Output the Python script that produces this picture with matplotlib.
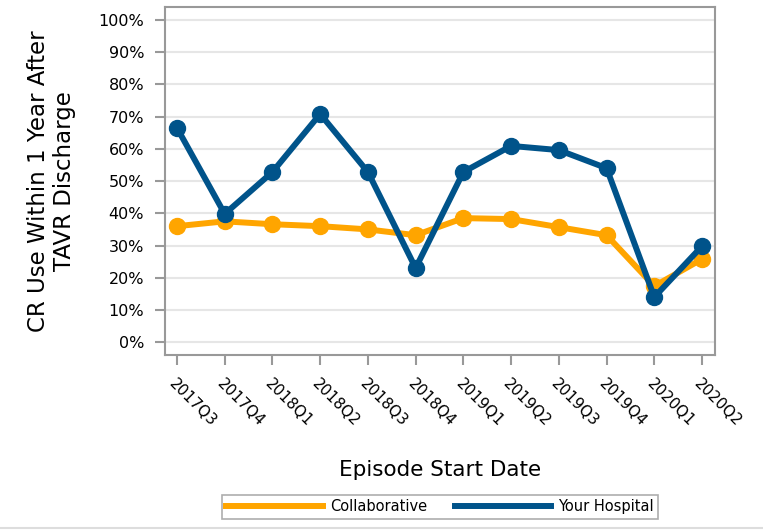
import matplotlib
matplotlib.use("Agg")
import matplotlib.pyplot as plt
import numpy as np
from matplotlib.lines import Line2D

quarters = ['2017Q3', '2017Q4', '2018Q1', '2018Q2', '2018Q3', '2018Q4',
            '2019Q1', '2019Q2', '2019Q3', '2019Q4', '2020Q1', '2020Q2']
collaborative = [36.0, 37.5, 36.6, 36.0, 35.0, 33.2, 38.5, 38.2, 35.7, 33.2, 17.4, 25.8]
your_hospital = [66.5, 39.8, 52.8, 70.8, 52.8, 23.0, 52.8, 60.9, 59.6, 54.0, 14.0, 29.8]

orange = '#FFA500'
blue = '#00538A'
grey = '#999999'

plt.rcParams['font.family'] = ['DejaVu Sans']

fig = plt.figure(figsize=(7.63, 5.30), dpi=100)
ax = fig.add_axes([0.2163, 0.330, 0.7207, 0.6568])

x = np.arange(len(quarters))
ax.plot(x, collaborative, color=orange, lw=4.3, marker='o', ms=11.5, label='Collaborative', zorder=3)
ax.plot(x, your_hospital, color=blue, lw=4.3, marker='o', ms=11.5, label='Your Hospital', zorder=4)

ax.set_xlim(-0.25, 11.27)
ax.set_ylim(-4, 104)
ax.set_yticks(np.arange(0, 101, 10))
ax.set_yticklabels([f'{v}%' for v in range(0, 101, 10)], fontsize=11.5)
ax.set_xticks(x)
ax.set_xticklabels(quarters, rotation=-45, ha='left', va='top', rotation_mode='anchor', fontsize=11)

ax.grid(axis='y', color='#e6e6e6', lw=1.5, zorder=0)
ax.set_axisbelow(True)
for s in ax.spines.values():
    s.set_color(grey)
    s.set_linewidth(1.5)
ax.tick_params(axis='both', colors=grey, labelcolor='black', length=7, width=1.5)
ax.tick_params(axis='x', pad=8)
ax.tick_params(axis='y', pad=8)

ax.set_xlabel('Episode Start Date', fontsize=15.5, labelpad=22)
ax.set_ylabel('CR Use Within 1 Year After\nTAVR Discharge', fontsize=16.5, labelpad=16)

handles = [Line2D([], [], color=orange, lw=4.3), Line2D([], [], color=blue, lw=4.3)]
leg = fig.legend(handles, ['Collaborative', 'Your Hospital'], ncol=2, loc='center',
                 bbox_to_anchor=(0.577, 0.044), fontsize=10.5, frameon=True, fancybox=False,
                 handlelength=6.6, handletextpad=0.5, columnspacing=1.9, borderpad=0.3)
leg.get_frame().set_edgecolor(grey)
leg.get_frame().set_linewidth(1.2)

fig.add_artist(Line2D([0, 1], [0.004, 0.004], color='#dddddd', lw=1.5, transform=fig.transFigure))

fig.savefig('out.png', dpi=100)
